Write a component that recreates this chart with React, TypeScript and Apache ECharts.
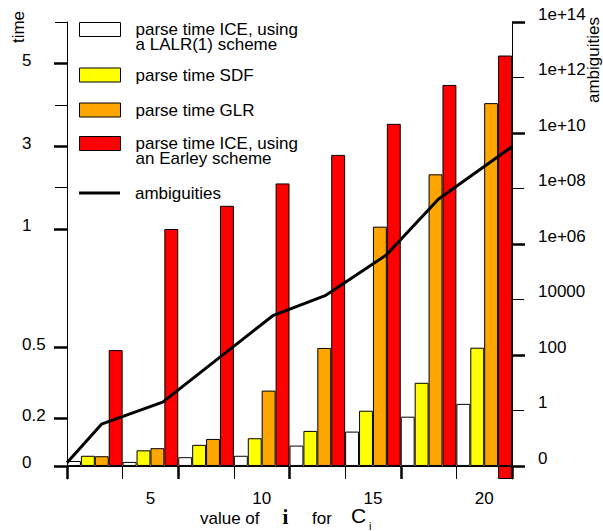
import React, { useEffect, useRef } from 'react';
import * as echarts from 'echarts';

// ---- data ----
const groupLabels = ['', '5', '', '10', '', '15', '', '20'];
const lalrTime = [0.021, 0.017, 0.037, 0.043, 0.086, 0.145, 0.208, 0.262];
const sdfTime = [0.043, 0.066, 0.089, 0.117, 0.148, 0.233, 0.351, 0.499];
const glrTime = [0.041, 0.075, 0.114, 0.318, 0.498, 1.056, 2.32, 4.04];
const earleyTime = [0.489, 1.0, 1.56, 2.1, 2.79, 3.54, 4.48, 5.19];
const earleyBelowAxis = [null, null, null, null, null, null, null, -0.055];
const ambigI = [1.25, 2.8, 5.55, 10.5, 12.85, 15.6, 17.95, 21.25];
const ambigValues = [0.003, 0.31, 2, 2600, 13700, 4.0e5, 4.2e7, 3.2e9];
const timeTicks = [0, 0.2, 0.5, 1, 3, 5];
const timeMinorTicks = [2, 4, 6];
const ambigTicks = [0, 1, 100, 1e4, 1e6, 1e8, 1e10, 1e12, 1e14];
const ambigTickLabels = ['0', '1', '100', '10000', '1e+06', '1e+08', '1e+10', '1e+12', '1e+14'];
const ambigMajorTicks = [0, 100, 1e6, 1e10, 1e14];
const ambigMinorTicks = [1, 1e4, 1e8, 1e12];

const NAME_LALR = 'parse time ICE, using\na LALR(1) scheme';
const NAME_SDF = 'parse time SDF';
const NAME_GLR = 'parse time GLR';
const NAME_EARLEY = 'parse time ICE, using\nan Earley scheme';
const NAME_AMB = 'ambiguities';

// ---- axis scales (broken linear time scale, shifted log scale for ambiguities) ----
const timeScale = (t: number) => (t <= 1 ? 237 * t : 237 + 41.4 * (t - 1));
const ambigScale = (a: number) => (Math.log10(a + 0.01) + 2) * 27.75;
const AX_MIN = timeScale(-0.055);
const AX_MAX = timeScale(6);

const FONT = '"Liberation Sans", Arial, Helvetica, sans-serif';
const FS = 17;

const timeLabel = (v: number) => {
  const k = timeTicks.findIndex((t) => Math.abs(timeScale(t) - v) < 0.01);
  return k >= 0 ? String(timeTicks[k]) : '';
};
const ambigLabel = (v: number) => {
  const k = ambigTicks.findIndex((t) => Math.abs(ambigScale(t) - v) < 0.01);
  return k >= 0 ? ambigTickLabels[k] : '';
};

const border = { borderColor: '#000', borderWidth: 1 };
const barBase = {
  type: 'bar',
  xAxisIndex: 0,
  yAxisIndex: 0,
  barGap: '0%',
  barCategoryGap: '0%',
};

const legendText = { fontSize: FS, fontFamily: FONT, color: '#000', lineHeight: 15, padding: [0, 0, 0, 10] };
const legendBase = {
  orient: 'vertical',
  left: 79,
  padding: 0,
  itemWidth: 41,
  itemHeight: 14,
  itemGap: 0,
  selectedMode: false,
  textStyle: legendText,
};
// an empty first line keeps the icon level with the first text line
const firstLineAligned = (name: string) => '\n' + name;

const option = {
  animation: false,
  backgroundColor: '#fff',
  grid: { left: 67, right: 91, top: 22, bottom: 52, containLabel: false },
  legend: [
    { ...legendBase, top: 6, icon: 'rect', formatter: firstLineAligned, data: [{ name: NAME_LALR, itemStyle: border }] },
    { ...legendBase, top: 66.5, icon: 'rect', data: [{ name: NAME_SDF, itemStyle: border }] },
    { ...legendBase, top: 101.5, icon: 'rect', data: [{ name: NAME_GLR, itemStyle: border }] },
    { ...legendBase, top: 120, icon: 'rect', formatter: firstLineAligned, data: [{ name: NAME_EARLEY, itemStyle: border }] },
    {
      ...legendBase,
      top: 184.5,
      icon: 'rect',
      itemHeight: 3,
      data: [{ name: NAME_AMB, itemStyle: { color: '#000', borderWidth: 0 } }],
    },
  ],
  xAxis: [
    {
      type: 'category',
      position: 'bottom',
      data: groupLabels.map((_, k) => String(k + 1)),
      axisLine: { show: true, onZero: true, onZeroAxisIndex: 0, lineStyle: { color: '#000', width: 1 } },
      axisTick: { show: true, interval: 0, length: 13, lineStyle: { color: '#000', width: 1 } },
      axisLabel: {
        interval: 0,
        margin: 11,
        fontSize: FS,
        fontFamily: FONT,
        color: '#000',
        formatter: (_v: string, idx: number) => groupLabels[idx],
      },
      splitLine: { show: false },
    },
    { type: 'value', min: 1.25, max: 21.25, show: false, axisLine: { onZero: false } },
    {
      type: 'category',
      position: 'bottom',
      data: ['a', 'b', 'c', 'd'],
      axisLine: { show: false, onZero: true, onZeroAxisIndex: 0 },
      axisTick: { show: true, interval: 0, length: 13, lineStyle: { color: '#000', width: 2.5 } },
      axisLabel: { show: false },
      splitLine: { show: false },
    },
  ],
  yAxis: [
    {
      type: 'value',
      position: 'left',
      min: AX_MIN,
      max: AX_MAX,
      axisLine: { show: true, onZero: false, lineStyle: { color: '#000', width: 1 } },
      axisTick: { show: true, customValues: timeTicks.map(timeScale), length: 13, lineStyle: { color: '#000', width: 2.5 } },
      axisLabel: {
        customValues: timeTicks.map(timeScale),
        formatter: timeLabel,
        align: 'left',
        verticalAlign: 'bottom',
        lineHeight: 6,
        margin: 45,
        fontSize: FS,
        fontFamily: FONT,
        color: '#000',
      },
      splitLine: { show: false },
    },
    {
      type: 'value',
      position: 'right',
      min: AX_MIN,
      max: AX_MAX,
      axisLine: { show: true, onZero: false, lineStyle: { color: '#000', width: 1 } },
      axisTick: { show: true, customValues: ambigMajorTicks.map(ambigScale), length: 13, lineStyle: { color: '#000', width: 2.5 } },
      axisLabel: {
        customValues: ambigTicks.map(ambigScale),
        formatter: ambigLabel,
        align: 'left',
        verticalAlign: 'bottom',
        lineHeight: 15,
        margin: 26,
        fontSize: FS,
        fontFamily: FONT,
        color: '#000',
      },
      splitLine: { show: false },
    },
    {
      type: 'value',
      position: 'left',
      min: AX_MIN,
      max: AX_MAX,
      axisLine: { show: false, onZero: false },
      axisTick: { show: true, customValues: timeMinorTicks.map(timeScale), length: 12, lineStyle: { color: '#000', width: 1 } },
      axisLabel: { show: false },
      splitLine: { show: false },
    },
    {
      type: 'value',
      position: 'right',
      min: AX_MIN,
      max: AX_MAX,
      axisLine: { show: false, onZero: false },
      axisTick: { show: true, customValues: ambigMinorTicks.map(ambigScale), length: 12, lineStyle: { color: '#000', width: 1 } },
      axisLabel: { show: false },
      splitLine: { show: false },
    },
  ],
  series: [
    { ...barBase, name: NAME_LALR, data: lalrTime.map(timeScale), itemStyle: { color: '#ffffff', ...border } },
    { ...barBase, name: NAME_SDF, data: sdfTime.map(timeScale), itemStyle: { color: '#ffff00', ...border } },
    { ...barBase, name: NAME_GLR, data: glrTime.map(timeScale), itemStyle: { color: '#ffa500', ...border } },
    { ...barBase, name: NAME_EARLEY, stack: 'earley', data: earleyTime.map(timeScale), itemStyle: { color: '#ff0000', ...border } },
    {
      ...barBase,
      name: 'earley-below',
      stack: 'earley',
      data: earleyBelowAxis.map((v) => (v == null ? null : timeScale(v))),
      itemStyle: { color: '#ff0000', ...border },
    },
    {
      type: 'line',
      name: NAME_AMB,
      xAxisIndex: 1,
      yAxisIndex: 1,
      data: ambigI.map((x, k) => [x, ambigScale(ambigValues[k])]),
      symbol: 'none',
      showSymbol: false,
      lineStyle: { color: '#000', width: 3 },
      itemStyle: { color: '#000' },
      z: 5,
    },
  ],
  graphic: [
    {
      type: 'text',
      x: 18,
      y: 27,
      rotation: Math.PI / 2,
      style: { text: 'time', fontSize: FS, fontFamily: FONT, fill: '#000', align: 'center', verticalAlign: 'middle', textAlign: 'center', textVerticalAlign: 'middle' },
    },
    {
      type: 'text',
      x: 593,
      y: 60,
      rotation: Math.PI / 2,
      style: { text: 'ambiguities', fontSize: FS, fontFamily: FONT, fill: '#000', align: 'center', verticalAlign: 'middle', textAlign: 'center', textVerticalAlign: 'middle' },
    },
    {
      type: 'text',
      x: 200,
      y: 518,
      style: { text: 'value of', fontSize: FS, fontFamily: FONT, fill: '#000', align: 'left', verticalAlign: 'middle', textAlign: 'left', textVerticalAlign: 'middle' },
    },
    {
      type: 'text',
      x: 285.5,
      y: 517,
      style: { text: 'i', fontSize: 21, fontWeight: 'bold', fontFamily: '"Liberation Serif", "DejaVu Serif", serif', fill: '#000', align: 'center', verticalAlign: 'middle', textAlign: 'center', textVerticalAlign: 'middle' },
    },
    {
      type: 'text',
      x: 312,
      y: 518,
      style: { text: 'for', fontSize: FS, fontFamily: FONT, fill: '#000', align: 'left', verticalAlign: 'middle', textAlign: 'left', textVerticalAlign: 'middle' },
    },
    {
      type: 'text',
      x: 351,
      y: 515,
      style: { text: 'C', fontSize: 21, fontFamily: FONT, fill: '#000', align: 'left', verticalAlign: 'middle', textAlign: 'left', textVerticalAlign: 'middle' },
    },
    {
      type: 'text',
      x: 369,
      y: 526,
      style: { text: 'i', fontSize: 11, fontFamily: FONT, fill: '#000', align: 'left', verticalAlign: 'middle', textAlign: 'left', textVerticalAlign: 'middle' },
    },
  ],
};

export default function App() {
  const ref = useRef<HTMLDivElement>(null);
  useEffect(() => {
    if (!ref.current) return;
    const chart = echarts.init(ref.current, null, { renderer: 'svg' });
    chart.setOption(option as any);
    return () => chart.dispose();
  }, []);
  return (
    <div
      ref={ref}
      style={{ position: 'absolute', left: 0, top: 0, width: 603, height: 531, background: '#fff' }}
    />
  );
}
